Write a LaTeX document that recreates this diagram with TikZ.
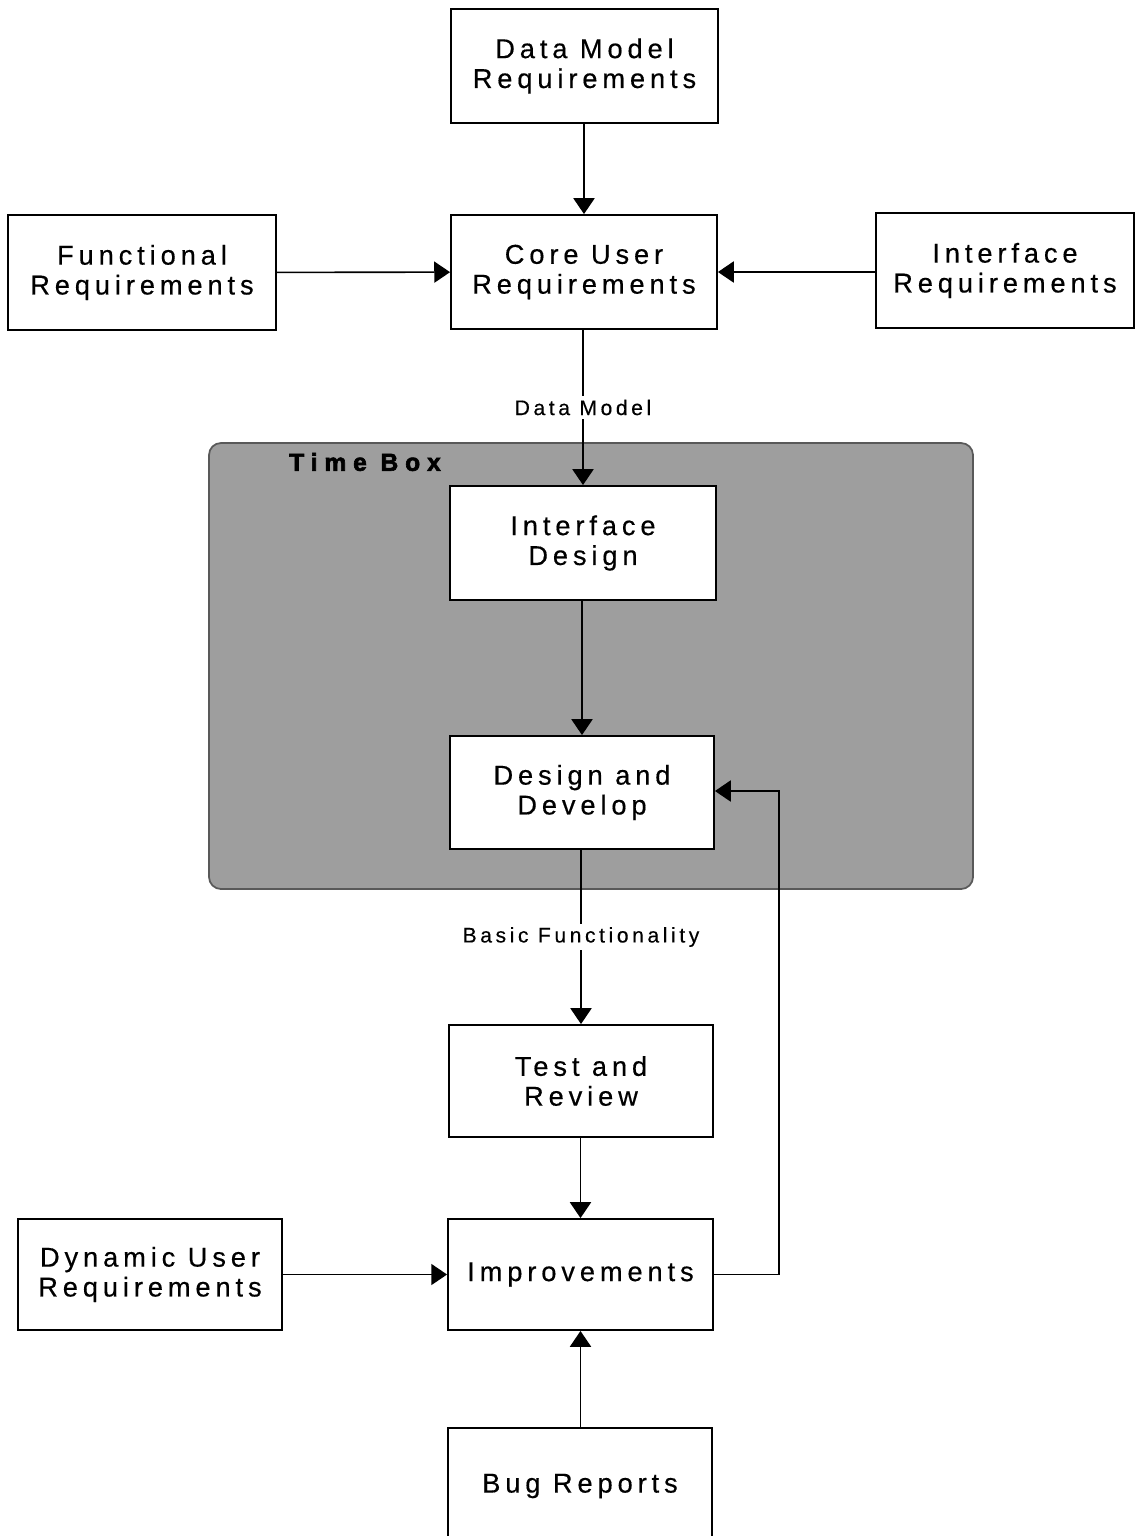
\documentclass[tikz,border=0pt]{standalone}
\usepackage{fontspec}
\setmainfont{Liberation Sans}
\newfontfamily\boxfont{Liberation Sans}[LetterSpace=18,FakeBold=0.4]
\newfontfamily\lblfont{Liberation Sans}[LetterSpace=17,FakeBold=0.3]
\newfontfamily\tbfont{Liberation Sans}[LetterSpace=28,FakeBold=2.5]
\usetikzlibrary{arrows.meta}
\definecolor{tbfill}{gray}{0.62}
\definecolor{tbedge}{gray}{0.35}
\tikzset{
  stepbox/.style={draw, line width=1.1pt, fill=white, inner sep=0pt, align=center,
    font=\boxfont\fontsize{15.5}{17}\selectfont},
  flow/.style={line width=0.9pt, -{Triangle[width=12pt,length=9pt]}},
  flowlabel/.style={fill=white, inner sep=2pt, font=\lblfont\fontsize{12}{14}\selectfont},
}
\begin{document}
\begin{tikzpicture}[x=0.02cm, y=-0.02cm]
\useasboundingbox (0,0) rectangle (1136,1536);
\fill[white] (0,0) rectangle (1136,1536);

% time box frame
\draw[tbedge, fill=tbfill, line width=1pt, rounded corners=0.24cm] (209,443) rectangle (973,889);
\node[font=\tbfont\fontsize{14}{15}\selectfont\bfseries] (tb) at (365,462) {Time Box};

% requirement sources
\node[stepbox, minimum width=5.34cm, minimum height=2.28cm] (dmr) at (584.5,66) {Data Model\\Requirements};
\node[stepbox, minimum width=5.32cm, minimum height=2.28cm] (cur) at (584,272) {Core User\\Requirements};
\node[stepbox, minimum width=5.36cm, minimum height=2.30cm] (fr) at (142,272.5) {Functional\\Requirements};
\node[stepbox, minimum width=5.16cm, minimum height=2.30cm] (ir) at (1005,270.5) {Interface\\Requirements};

% iteration inside the time box
\node[stepbox, minimum width=5.32cm, minimum height=2.28cm] (id) at (583,543) {Interface\\Design};
\node[stepbox, minimum width=5.28cm, minimum height=2.26cm] (dd) at (582,792.5) {Design and\\Develop};

% review loop
\node[stepbox, minimum width=5.28cm, minimum height=2.24cm] (tr) at (581,1081) {Test and\\Review};
\node[stepbox, minimum width=5.30cm, minimum height=2.22cm] (imp) at (580.5,1274.5) {Improvements};
\node[stepbox, minimum width=5.28cm, minimum height=2.32cm] (br) at (580,1486) {Bug Reports};
\node[stepbox, minimum width=5.28cm, minimum height=2.22cm] (dur) at (150,1274.5) {Dynamic User\\Requirements};

\coordinate (loopdown) at (779,1274.5);
\coordinate (loopup) at (779,791);

% connectors
\draw[flow] (dmr.south -| cur) -- (cur.north);
\draw[flow] (fr) -- (cur);
\draw[flow] (ir.west |- cur) -- (cur.east);
\draw[flow] (cur.south -| id) -- node[flowlabel] (lbl1) {Data Model} (id.north);
\draw[flow] (id.south -| dd) -- (dd.north);
\draw[flow] (dd.south -| tr) -- node[flowlabel] (lbl2) {Basic Functionality} (tr.north);
\draw[flow] (tr.south -| imp) -- (imp.north);
\draw[flow] (dur) -- (imp);
\draw[flow] (br.north -| imp) -- (imp.south);
\draw[flow] (imp.east) -- (loopdown) -- (loopup) -- (dd.east |- loopup);
\end{tikzpicture}
\end{document}
